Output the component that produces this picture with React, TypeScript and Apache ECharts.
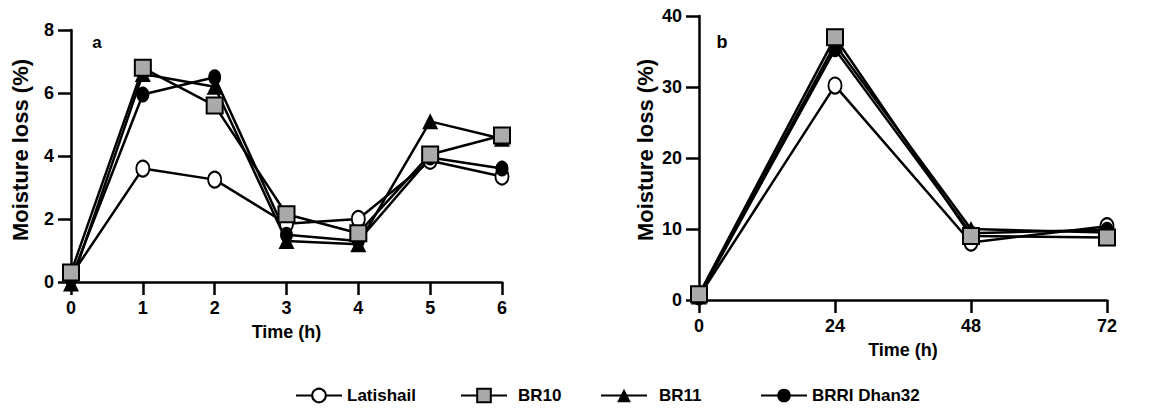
import React, { useEffect, useRef } from "react";
import * as echarts from "echarts";

const timeA = [0, 1, 2, 3, 4, 5, 6];
const latishailA = [0.2, 3.6, 3.25, 1.85, 2.0, 3.85, 3.35];
const br10A = [0.3, 6.8, 5.6, 2.15, 1.55, 4.05, 4.65];
const br11A = [-0.05, 6.6, 6.2, 1.3, 1.2, 5.1, 4.55];
const dhan32A = [0.1, 5.95, 6.5, 1.5, 1.3, 3.95, 3.6];

const timeB = [0, 24, 48, 72];
const latishailB = [0.5, 30.2, 8.1, 10.4];
const br10B = [0.8, 37, 9.0, 8.8];
const br11B = [0.5, 36, 10, 9.5];
const dhan32B = [0.5, 35.3, 9.4, 9.9];

const ticksA = [0, 2, 4, 6, 8];
const ticksB = [0, 10, 20, 30, 40];

const FONT = "'Liberation Sans', Arial, Helvetica, sans-serif";

const pairs = (xs: number[], ys: number[]) => xs.map((x, i) => [x, ys[i]]);

const styles: Record<string, any> = {
  Latishail: { symbol: "circle", symbolSize: [13, 16], itemStyle: { color: "#ffffff", borderColor: "#000", borderWidth: 2 } },
  BR10: { symbol: "rect", symbolSize: 16, itemStyle: { color: "#aaaaaa", borderColor: "#000", borderWidth: 2 } },
  BR11: { symbol: "triangle", symbolSize: 16, itemStyle: { color: "#000", borderColor: "#000", borderWidth: 0 } },
  "BRRI Dhan32": { symbol: "circle", symbolSize: [13, 16], itemStyle: { color: "#000", borderColor: "#000", borderWidth: 0 } },
};

function mk(name: string, xs: number[], ys: number[], idx: number) {
  return {
    type: "line",
    name,
    xAxisIndex: idx,
    yAxisIndex: idx,
    data: pairs(xs, ys),
    clip: false,
    lineStyle: { color: "#000", width: 2.5 },
    emphasis: { disabled: true },
    ...styles[name],
  };
}

function axisCommon() {
  return {
    axisLine: { show: true, onZero: false, lineStyle: { color: "#000", width: 2.5 } },
    axisTick: { show: true, inside: false, length: 13, lineStyle: { color: "#000", width: 2.5 } },
    splitLine: { show: false },
    axisLabel: { color: "#000", fontSize: 18, fontWeight: "bold", fontFamily: FONT },
    nameTextStyle: { color: "#000", fontSize: 18, fontWeight: "bold", fontFamily: FONT },
  };
}

export default function App() {
  const ref = useRef<HTMLDivElement>(null);
  useEffect(() => {
    if (!ref.current) return;
    const chart = echarts.init(ref.current, null, { renderer: "svg" });
    const legendText = { color: "#000", fontSize: 17, fontWeight: "bold", fontFamily: FONT };
    const mkLegend = (name: string, left: number, pad: number) => ({
      data: [name],
      left,
      top: 387,
      padding: 0,
      itemWidth: 46,
      itemHeight: 17,
      selectedMode: false,
      textStyle: { ...legendText, padding: [0, 0, 0, pad] },
    });
    chart.setOption({
      animation: false,
      backgroundColor: "#fff",
      grid: [
        { left: 71, top: 30, width: 431, height: 252 },
        { left: 699, top: 16, width: 408, height: 284 },
      ],
      xAxis: [
        { ...axisCommon(), type: "value", gridIndex: 0, min: 0, max: 6, interval: 1, name: "Time (h)", nameLocation: "middle", nameGap: 41, axisLabel: { ...axisCommon().axisLabel, margin: 17 } },
        { ...axisCommon(), type: "value", gridIndex: 1, min: 0, max: 72, interval: 24, name: "Time (h)", nameLocation: "middle", nameGap: 41, axisLabel: { ...axisCommon().axisLabel, margin: 17 } },
      ],
      yAxis: [
        { ...axisCommon(), type: "value", gridIndex: 0, min: ticksA[0], max: ticksA[ticksA.length - 1], interval: ticksA[1] - ticksA[0], axisLabel: { ...axisCommon().axisLabel, margin: 17 } },
        { ...axisCommon(), type: "value", gridIndex: 1, min: ticksB[0], max: ticksB[ticksB.length - 1], interval: ticksB[1] - ticksB[0], axisLabel: { ...axisCommon().axisLabel, margin: 17 } },
      ],
      legend: [
        mkLegend("Latishail", 295, 0),
        mkLegend("BR10", 460, 6),
        mkLegend("BR11", 600, 7),
        mkLegend("BRRI Dhan32", 760, 0),
      ],
      graphic: [
        { type: "text", x: 20, y: 150, rotation: Math.PI / 2, style: { text: "Moisture loss (%)", fill: "#000", font: `bold 22px ${FONT}`, align: "center", verticalAlign: "middle" } },
        { type: "text", x: 645, y: 150, rotation: Math.PI / 2, style: { text: "Moisture loss (%)", fill: "#000", font: `bold 22px ${FONT}`, align: "center", verticalAlign: "middle" } },
        { type: "text", x: 97, y: 42, style: { text: "a", fill: "#000", font: `bold 17px ${FONT}`, align: "center", verticalAlign: "middle" } },
        { type: "text", x: 722, y: 42, style: { text: "b", fill: "#000", font: `bold 18px ${FONT}`, align: "center", verticalAlign: "middle" } },
      ],
      series: [
        mk("Latishail", timeA, latishailA, 0),
        mk("BRRI Dhan32", timeA, dhan32A, 0),
        mk("BR11", timeA, br11A, 0),
        mk("BR10", timeA, br10A, 0),
        mk("Latishail", timeB, latishailB, 1),
        mk("BRRI Dhan32", timeB, dhan32B, 1),
        mk("BR11", timeB, br11B, 1),
        mk("BR10", timeB, br10B, 1),
      ],
    });
    return () => chart.dispose();
  }, []);
  return <div ref={ref} style={{ position: "fixed", left: 0, top: 0, width: 1169, height: 411 }} />;
}
